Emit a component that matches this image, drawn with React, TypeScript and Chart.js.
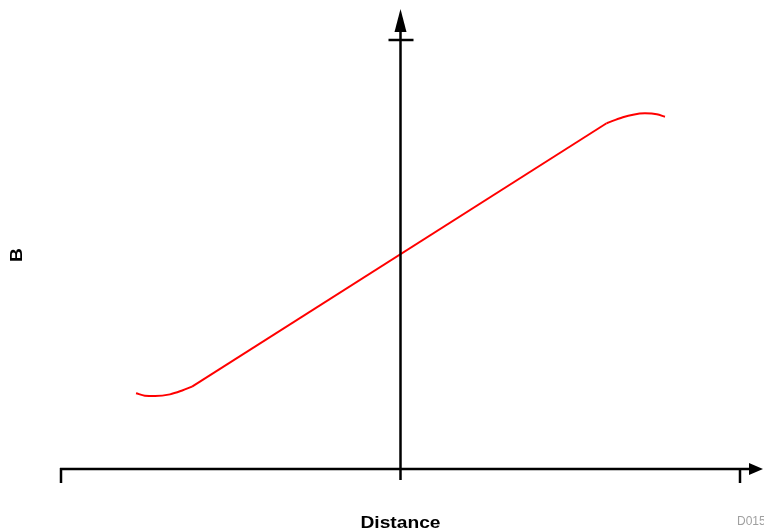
import React, { useEffect, useRef } from "react";
import { Chart, registerables } from "chart.js";

Chart.register(...registerables);

// Field profile B versus distance (normalised units)
const leftDistance = [-0.779, -0.753, -0.723, -0.679, -0.643, -0.614];
const leftB = [0.1765, 0.171, 0.17, 0.174, 0.183, 0.192];
const midDistance = [-0.614, 0.607];
const midB = [0.192, 0.806];
const rightDistance = [0.607, 0.655, 0.685, 0.72, 0.755, 0.779];
const rightB = [0.806, 0.82, 0.826, 0.829, 0.827, 0.821];
const xTickValues = [-1, 1];
const yTickValues = [1];
const xAxisTitle = "Distance";
const yAxisTitle = "B";
const figureCode = "D015";

const arrowAxesPlugin = {
  id: "arrowAxes",
  afterDatasetsDraw(chart: any) {
    const { ctx, scales } = chart;
    const xs = scales.x;
    const ys = scales.y;
    const ox = xs.getPixelForValue(0);
    const oy = ys.getPixelForValue(0);
    const left = xs.getPixelForValue(-1);
    const right = xs.getPixelForValue(1);
    const top = ys.getPixelForValue(1);
    ctx.save();
    ctx.strokeStyle = "#000";
    ctx.fillStyle = "#000";
    ctx.lineWidth = 2.5;
    ctx.lineCap = "butt";
    // horizontal axis
    ctx.beginPath();
    ctx.moveTo(left - 1, oy);
    ctx.lineTo(right + 12, oy);
    ctx.stroke();
    // arrow right
    ctx.beginPath();
    ctx.moveTo(right + 23, oy);
    ctx.lineTo(right + 9, oy - 6);
    ctx.lineTo(right + 9, oy + 6);
    ctx.closePath();
    ctx.fill();
    // x ticks
    for (const v of xTickValues) {
      const px = xs.getPixelForValue(v);
      ctx.beginPath();
      ctx.moveTo(px, oy - 1);
      ctx.lineTo(px, oy + 14);
      ctx.stroke();
    }
    // vertical axis
    ctx.beginPath();
    ctx.moveTo(ox, oy + 11);
    ctx.lineTo(ox, top - 10);
    ctx.stroke();
    // arrow up
    ctx.beginPath();
    ctx.moveTo(ox, top - 31);
    ctx.lineTo(ox - 6, top - 8);
    ctx.lineTo(ox + 6, top - 8);
    ctx.closePath();
    ctx.fill();
    // y ticks
    for (const v of yTickValues) {
      const py = ys.getPixelForValue(v);
      ctx.beginPath();
      ctx.moveTo(ox - 12, py);
      ctx.lineTo(ox + 13, py);
      ctx.stroke();
    }
    // titles
    ctx.font = "bold 16px 'Liberation Sans', Arial, sans-serif";
    ctx.textAlign = "center";
    ctx.textBaseline = "alphabetic";
    ctx.save();
    ctx.translate(ox, 528);
    ctx.scale(1.2, 1);
    ctx.fillText(xAxisTitle, 0, 0);
    ctx.restore();
    ctx.save();
    ctx.translate(22, 255);
    ctx.rotate(-Math.PI / 2);
    ctx.scale(1.2, 1);
    ctx.fillText(yAxisTitle, 0, 0);
    ctx.restore();
    ctx.font = "12px 'Liberation Sans', Arial, sans-serif";
    ctx.fillStyle = "#a0a0a0";
    ctx.textAlign = "left";
    ctx.fillText(figureCode, 737, 525);
    ctx.restore();
  },
};

const toPoints = (xs: number[], ys: number[]) => xs.map((d, i) => ({ x: d, y: ys[i] }));

export default function App() {
  const ref = useRef<HTMLCanvasElement | null>(null);
  useEffect(() => {
    if (!ref.current) return;
    const common = {
      borderColor: "#ff0000",
      borderWidth: 2,
      pointRadius: 0,
      fill: false,
    };
    const chart = new Chart(ref.current, {
      type: "line",
      data: {
        datasets: [
          { ...common, data: toPoints(leftDistance, leftB), cubicInterpolationMode: "monotone" },
          { ...common, data: toPoints(midDistance, midB), tension: 0 },
          { ...common, data: toPoints(rightDistance, rightB), cubicInterpolationMode: "monotone" },
        ],
      },
      options: {
        responsive: false,
        animation: false,
        events: [],
        layout: { padding: { left: 61, right: 24, top: 40, bottom: 62 } },
        plugins: { legend: { display: false }, tooltip: { enabled: false }, title: { display: false } },
        scales: {
          x: { type: "linear", min: -1, max: 1, display: false },
          y: { type: "linear", min: 0, max: 1, display: false },
        },
      },
      plugins: [arrowAxesPlugin],
    });
    return () => chart.destroy();
  }, []);
  return (
    <div style={{ position: "fixed", left: 0, top: 0, width: 764, height: 531, background: "#fff" }}>
      <canvas ref={ref} width={764} height={531} style={{ width: 764, height: 531 }} />
    </div>
  );
}
